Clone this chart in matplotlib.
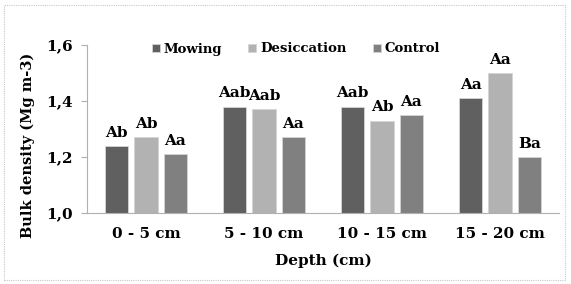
import matplotlib.pyplot as plt
import numpy as np
from matplotlib.patches import Rectangle

# Data
depths = ['0 - 5 cm', '5 - 10 cm', '10 - 15 cm', '15 - 20 cm']
mowing = [1.24, 1.38, 1.38, 1.41]
desiccation = [1.27, 1.37, 1.33, 1.50]
control = [1.21, 1.27, 1.35, 1.20]
lab_mowing = ['Ab', 'Aab', 'Aab', 'Aa']
lab_desiccation = ['Ab', 'Aab', 'Ab', 'Aa']
lab_control = ['Aa', 'Aa', 'Aa', 'Ba']

plt.rcParams['font.family'] = ['DejaVu Serif']
plt.rcParams['font.weight'] = 'bold'

W, H = 571, 284
fig = plt.figure(figsize=(W / 100, H / 100), dpi=100)
ax = fig.add_axes([87/W, 1 - 213/H, 472/W, 168/H])

# dotted border around the figure
fig.patches.append(Rectangle((4/W, 4/H), 561/W, 275/H, transform=fig.transFigure,
                             fill=False, edgecolor='#c8c8c8', linestyle=(0, (1, 1)), lw=0.8))

x = np.arange(len(depths))
w = 0.2
series = [(mowing, lab_mowing, '#606060', 'Mowing', -1),
          (desiccation, lab_desiccation, '#b2b2b2', 'Desiccation', 0),
          (control, lab_control, '#808080', 'Control', 1)]

for vals, labs, col, name, k in series:
    bars = ax.bar(x + k * 0.25, vals, w, color=col, label=name, edgecolor='#d4d4d4', linewidth=0.6)
    for b, t in zip(bars, labs):
        ax.text(b.get_x() + b.get_width() / 2, b.get_height() + 0.022, t,
                ha='center', va='bottom', fontsize=11, fontweight='bold')

ax.set_ylim(1.0, 1.6)
ax.set_xlim(-0.5, 3.5)
ax.set_yticks([1.0, 1.2, 1.4, 1.6])
ax.set_yticklabels(['1,0', '1,2', '1,4', '1,6'], fontsize=11, fontweight='bold')
ax.set_xticks(x)
ax.set_xticklabels(depths, fontsize=11, fontweight='bold')
ax.tick_params(axis='x', length=0, pad=10)
ax.tick_params(axis='y', length=4, color='#b0b0b0', pad=6)
for s in ['top', 'right']:
    ax.spines[s].set_visible(False)
ax.spines['left'].set_color('#b0b0b0')
ax.spines['bottom'].set_color('#b0b0b0')

ax.set_xlabel('Depth (cm)', fontsize=11, fontweight='bold', labelpad=9)
ax.set_ylabel('Bulk density (Mg m-3)', fontsize=10.5, fontweight='bold')
ax.yaxis.set_label_coords(-52/472, 0.4)

ax.legend(loc='center', bbox_to_anchor=(209/472, 1 - 4/168), ncol=3, frameon=False,
          fontsize=9.5, handlelength=0.6, handleheight=0.6, handletextpad=0.3, columnspacing=2.0)

fig.savefig('out.png', dpi=100)
